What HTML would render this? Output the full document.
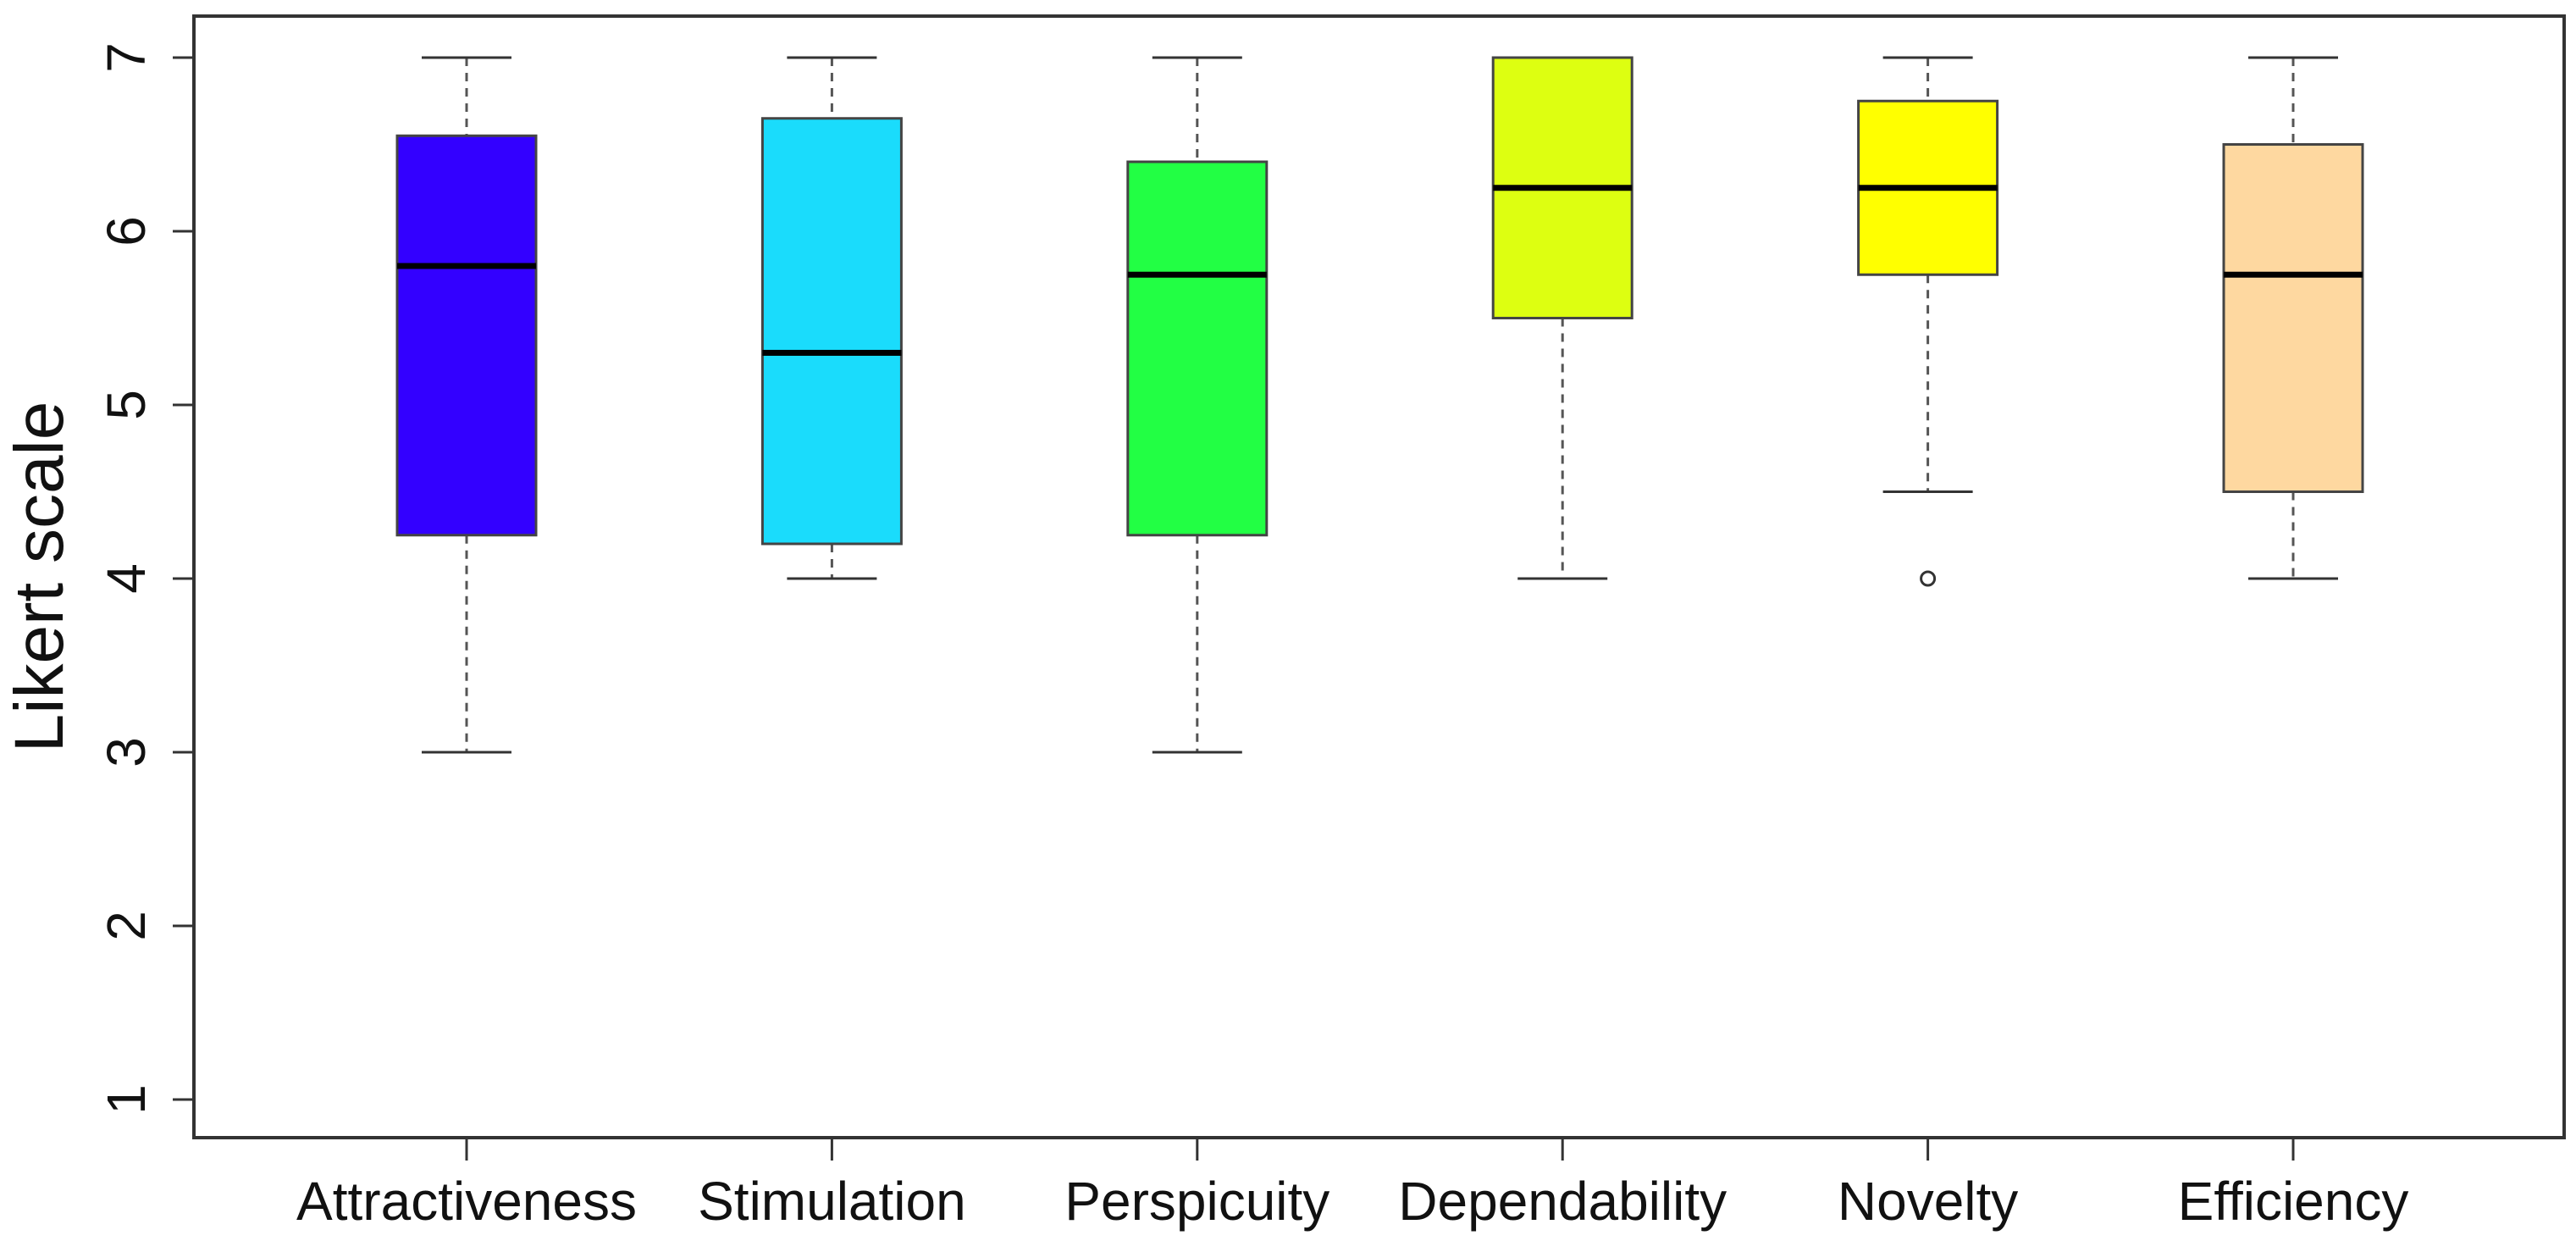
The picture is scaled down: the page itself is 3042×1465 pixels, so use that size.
<!DOCTYPE html>
<html><head><meta charset="utf-8"><style>
html,body{margin:0;padding:0;background:#fff}
svg{display:block;font-family:"Liberation Sans",Arial,sans-serif}
</style></head><body>
<svg id="chart" width="3042" height="1465" viewBox="0 0 3042 1465" xmlns="http://www.w3.org/2000/svg">
<rect x="229" y="19" width="2799" height="1324" fill="none" stroke="#333" stroke-width="4"/>
<text transform="translate(74,681) rotate(-90)" text-anchor="middle" font-size="82" fill="#111">Likert scale</text>
<g id="g"></g>
</svg>
<script>
const categories=["Attractiveness","Stimulation","Perspicuity","Dependability","Novelty","Efficiency"];
const mins=[3,4,3,4,4.5,4];
const q1s=[4.25,4.2,4.25,5.5,5.75,4.5];
const medians=[5.8,5.3,5.75,6.25,6.25,5.75];
const q3s=[6.55,6.65,6.4,7,6.75,6.5];
const maxs=[7,7,7,7,7,7];
const outliers=[[],[],[],[],[4],[]];
const colors=["#3300ff","#1adcfc","#22ff44","#ddff11","#ffff00","#fed8a0"];
const yTicks=[1,2,3,4,5,6,7];
const NS="http://www.w3.org/2000/svg";
const g=document.getElementById('g');
function y(v){return 1298-(v-1)*205;}
function x(i){return 551+i*431.4;}
function mk(t,a){const e=document.createElementNS(NS,t);for(const k in a)e.setAttribute(k,a[k]);g.appendChild(e);return e;}
yTicks.forEach(v=>{
  const l=mk('line',{x1:204,x2:229,y1:y(v),y2:y(v),stroke:'#333','stroke-width':3});
  
  
  const t=mk('text',{transform:`translate(171,${y(v)}) rotate(-90)`,'text-anchor':'middle','font-size':64,fill:'#111'});
  t.textContent=v;
  
  
});
const bw=164,cw=106;
categories.forEach((c,i)=>{
  const cx=x(i);
  const tk=mk('line',{x1:cx,x2:cx,y1:1343,y2:1370,stroke:'#333','stroke-width':3});
  
  
  const lb=mk('text',{x:cx,y:1440,'text-anchor':'middle','font-size':64,fill:'#111'});
  lb.textContent=c;
  
  
  const w1=mk('line',{x1:cx,x2:cx,y1:y(maxs[i]),y2:y(q3s[i]),stroke:'#555','stroke-width':3,'stroke-dasharray':'10,8'});
  
  
  const w2=mk('line',{x1:cx,x2:cx,y1:y(q1s[i]),y2:y(mins[i]),stroke:'#555','stroke-width':3,'stroke-dasharray':'10,8'});
  
  
  [maxs[i],mins[i]].forEach(v=>{
    const cp=mk('line',{x1:cx-cw/2,x2:cx+cw/2,y1:y(v),y2:y(v),stroke:'#333','stroke-width':3});
    
    
  });
  const b=mk('rect',{x:cx-bw/2,y:y(q3s[i]),width:bw,height:y(q1s[i])-y(q3s[i]),fill:colors[i],stroke:'#444','stroke-width':3});
  
  
  const m=mk('line',{x1:cx-bw/2,x2:cx+bw/2,y1:y(medians[i]),y2:y(medians[i]),stroke:'#000','stroke-width':7});
  
  
  outliers[i].forEach(v=>{
    const o=mk('circle',{cx:cx,cy:y(v),r:8,fill:'none',stroke:'#333','stroke-width':3});
    
    
  });
});
</script>
</body></html>
